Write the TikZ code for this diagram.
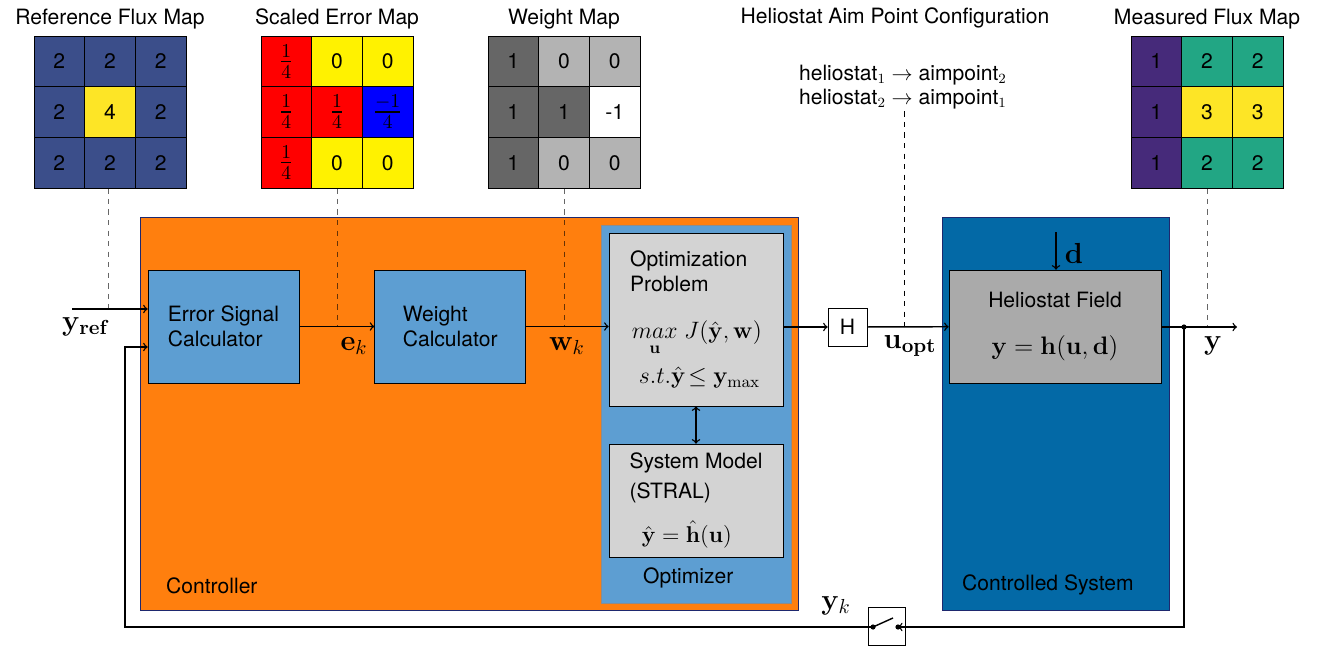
\RequirePackage{fix-cm}
\documentclass[tikz,border=0pt]{standalone}
\usepackage{amsmath}
\usepackage[no-math]{fontspec}
\setmainfont{TeX Gyre Heros}
\usepackage{tikz}
\usetikzlibrary{positioning, arrows}

\definecolor{ctrlorange}{RGB}{255,127,14}
\definecolor{calcblue}{RGB}{93,158,210}
\definecolor{sysblue}{RGB}{3,105,166}
\definecolor{frameblue}{RGB}{30,40,110}
\definecolor{probgray}{RGB}{211,211,211}
\definecolor{fieldgray}{RGB}{170,170,170}
\definecolor{vblue}{RGB}{59,78,138}
\definecolor{vyellow}{RGB}{253,229,38}
\definecolor{vpurple}{RGB}{70,42,122}
\definecolor{vgreen}{RGB}{34,166,132}
\definecolor{wdark}{RGB}{102,102,102}
\definecolor{wlight}{RGB}{179,179,179}

\newcommand{\cellfrac}[2]{{\fontsize{16}{19}\selectfont$\frac{#1}{#2}$}}
\newcommand{\bigmath}[2][13]{{\fontsize{#1}{16}\selectfont$#2$}}

\begin{document}
\begin{tikzpicture}[x=0.02cm, y=-0.02cm, font=\large, >=to]
  \tikzstyle{cell} = [rectangle, draw=black, minimum size=1.014cm, inner sep=0pt]
  \tikzstyle{block} = [rectangle, draw=black, fill=calcblue, minimum width=3.02cm, minimum height=2.26cm, align=left]
  \tikzstyle{inner} = [rectangle, draw=black, fill=probgray, minimum width=3.48cm, align=left]
  \tikzstyle{frame} = [rectangle, draw=frameblue]
  \tikzstyle{arrow} = [thick,->]
  \tikzstyle{line} = [thick]
  \tikzstyle{tap} = [dashed, black, opacity=0.6]
  \tikzstyle{sig} = [font=\fontsize{16.5}{20}\selectfont]

  \useasboundingbox (0,0) rectangle (1320,646);

  % flux and weight maps
  \foreach \v/\c [count=\i from 0] in {2/vblue,2/vblue,2/vblue,2/vblue,4/vyellow,2/vblue,2/vblue,2/vblue,2/vblue}{
    \pgfmathtruncatemacro{\mrow}{\i/3}
    \pgfmathtruncatemacro{\mcol}{mod(\i,3)}
    \node (ref-\mrow\mcol) [cell, fill=\c] at ({59.3+50.7*\mcol},{61.3+50.7*\mrow}) {\v};
  }
  \foreach \v/\c [count=\i from 0] in {\cellfrac14/red,0/yellow,0/yellow,\cellfrac14/red,\cellfrac14/red,\cellfrac{-1}4/blue,\cellfrac14/red,0/yellow,0/yellow}{
    \pgfmathtruncatemacro{\mrow}{\i/3}
    \pgfmathtruncatemacro{\mcol}{mod(\i,3)}
    \node (err-\mrow\mcol) [cell, fill=\c] at ({286.3+50.7*\mcol},{61.3+50.7*\mrow}) {\v};
  }
  \foreach \v/\c [count=\i from 0] in {1/wdark,0/wlight,0/wlight,1/wdark,1/wdark,-1/white,1/wdark,0/wlight,0/wlight}{
    \pgfmathtruncatemacro{\mrow}{\i/3}
    \pgfmathtruncatemacro{\mcol}{mod(\i,3)}
    \node (wgt-\mrow\mcol) [cell, fill=\c] at ({513.3+50.7*\mcol},{61.3+50.7*\mrow}) {\v};
  }
  \foreach \v/\c [count=\i from 0] in {1/vpurple,2/vgreen,2/vgreen,1/vpurple,3/vyellow,3/vyellow,1/vpurple,2/vgreen,2/vgreen}{
    \pgfmathtruncatemacro{\mrow}{\i/3}
    \pgfmathtruncatemacro{\mcol}{mod(\i,3)}
    \node (meas-\mrow\mcol) [cell, fill=\c] at ({1156.3+50.7*\mcol},{61.3+50.7*\mrow}) {\v};
  }
  \node (ref-title) [above=0pt of ref-01] {Reference Flux Map};
  \node (err-title) [above=0pt of err-01] {Scaled Error Map};
  \node (wgt-title) [above=0pt of wgt-01] {Weight Map};
  \node (meas-title) [above=0pt of meas-01] {Measured Flux Map};
  \node (aim-title) [anchor=base] at (895,23) {Heliostat Aim Point Configuration};
  \node (aim) [anchor=west, align=left, inner sep=1pt] at (797,87) {heliostat$_1$ $\rightarrow$ aimpoint$_2$\\heliostat$_2$ $\rightarrow$ aimpoint$_1$};

  % controller and plant
  \node (ctrl) [frame, fill=ctrlorange, minimum width=13.16cm, minimum height=7.86cm] at (469,413.5) {};
  \node (plant) [frame, fill=sysblue, minimum width=4.54cm, minimum height=7.86cm] at (1055.5,413.5) {};
  \node (optim) [rectangle, draw=black!45, fill=calcblue, minimum width=3.8cm, minimum height=7.56cm] at (696,414) {};
  \node [anchor=west] at (160,586) {Controller};
  \node [anchor=west] at (956,585) {Controlled System};
  \node [anchor=west] at (637,578) {Optimizer};

  \node (errcalc) [block] at (223.5,326.5) {Error Signal\\Calculator};
  \node (wcalc) [block, right=1.5cm of errcalc] {Weight\\Calculator};
  \node (prob) [inner, minimum height=3.46cm] at (696,319.5) {Optimization\\Problem\\[13pt]\hspace{1pt}\bigmath[13.5]{\underset{\mathbf{u}}{max}\ J(\hat{\mathbf{y}},\mathbf{w})}\\[5pt]\hspace{5pt}\bigmath[13.5]{s.t.\hat{\mathbf{y}}\!\leq \mathbf{y}_{\max}}};
  \node (model) [inner, minimum height=2.26cm] at (696,500.5) {System Model\\[3pt](STRAL)\\[9pt]\hspace{7pt}\bigmath[13]{\hat{\mathbf{y}}=\hat{\mathbf{h}}(\mathbf{u})}};
  \node (H) [rectangle, draw=black, fill=white, minimum width=0.78cm, minimum height=0.76cm] at (847.5,327) {H};
  \node (field) [rectangle, draw=black, fill=fieldgray, minimum width=4.24cm, minimum height=2.26cm, align=center] at (1055,326.5) {Heliostat Field\\[13pt]\bigmath[14.4]{\mathbf{y}=\mathbf{h}(\mathbf{u},\mathbf{d})}};
  \node (switch) [rectangle, draw=black, fill=white, minimum width=0.74cm, minimum height=0.76cm] at (886.5,626) {};

  \coordinate (yref-in) at (72,309);
  \coordinate (branch) at (1184,327);
  \coordinate (yout) at (1237,327);
  \coordinate (dist) at (1056,232);
  \coordinate (sw-l) at (873,627);
  \coordinate (sw-r) at (898,627);
  \coordinate (fb-corner) at (125,627);

  % signals
  \draw [arrow] (yref-in) -- (yref-in -| errcalc.west);
  \draw [arrow] (errcalc) -- (wcalc);
  \draw [arrow] (wcalc.east) -- (wcalc.east -| prob.west);
  \draw [arrow] (prob.east |- H) -- (H);
  \draw [arrow] (H) -- (field);
  \draw [arrow] (field.east |- branch) -- (yout);
  \draw [arrow] (dist) -- (dist |- field.north);
  \draw [<->, thick] (prob) -- (model);
  \fill (branch) circle (2.6);
  \draw [arrow] (branch) |- (sw-r);
  \draw [arrow] (sw-l) -- (fb-corner) |- (errcalc.west |- 0,347);
  \fill (sw-l) circle (2.6);
  \fill (sw-r) circle (2.6);
  \draw [line] (sw-l) -- ++(20,-9);

  % taps
  \draw [tap] (ref-21.south -| 108,0) -- (108,309);
  \draw [tap] (err-21.south) -- (err-21.south |- errcalc);
  \draw [tap] (wgt-21.south) -- (wgt-21.south |- wcalc);
  \draw [dashed] (aim.south -| 904,0) -- (904,327);
  \draw [tap] (meas-21.south) -- (meas-21.south |- branch);

  % signal labels
  \node [sig] at (86,327) {$\mathbf{y}_{\mathbf{ref}}$};
  \node [sig] at (354,346) {$\mathbf{e}_k$};
  \node [sig] at (567,346) {$\mathbf{w}_k$};
  \node [sig] at (910,346) {$\mathbf{u}_{\mathbf{opt}}$};
  \node [sig] at (1213,346) {$\mathbf{y}$};
  \node [sig] at (1074,253) {$\mathbf{d}$};
  \node [sig] at (836,606) {$\mathbf{y}_k$};
\end{tikzpicture}
\end{document}
